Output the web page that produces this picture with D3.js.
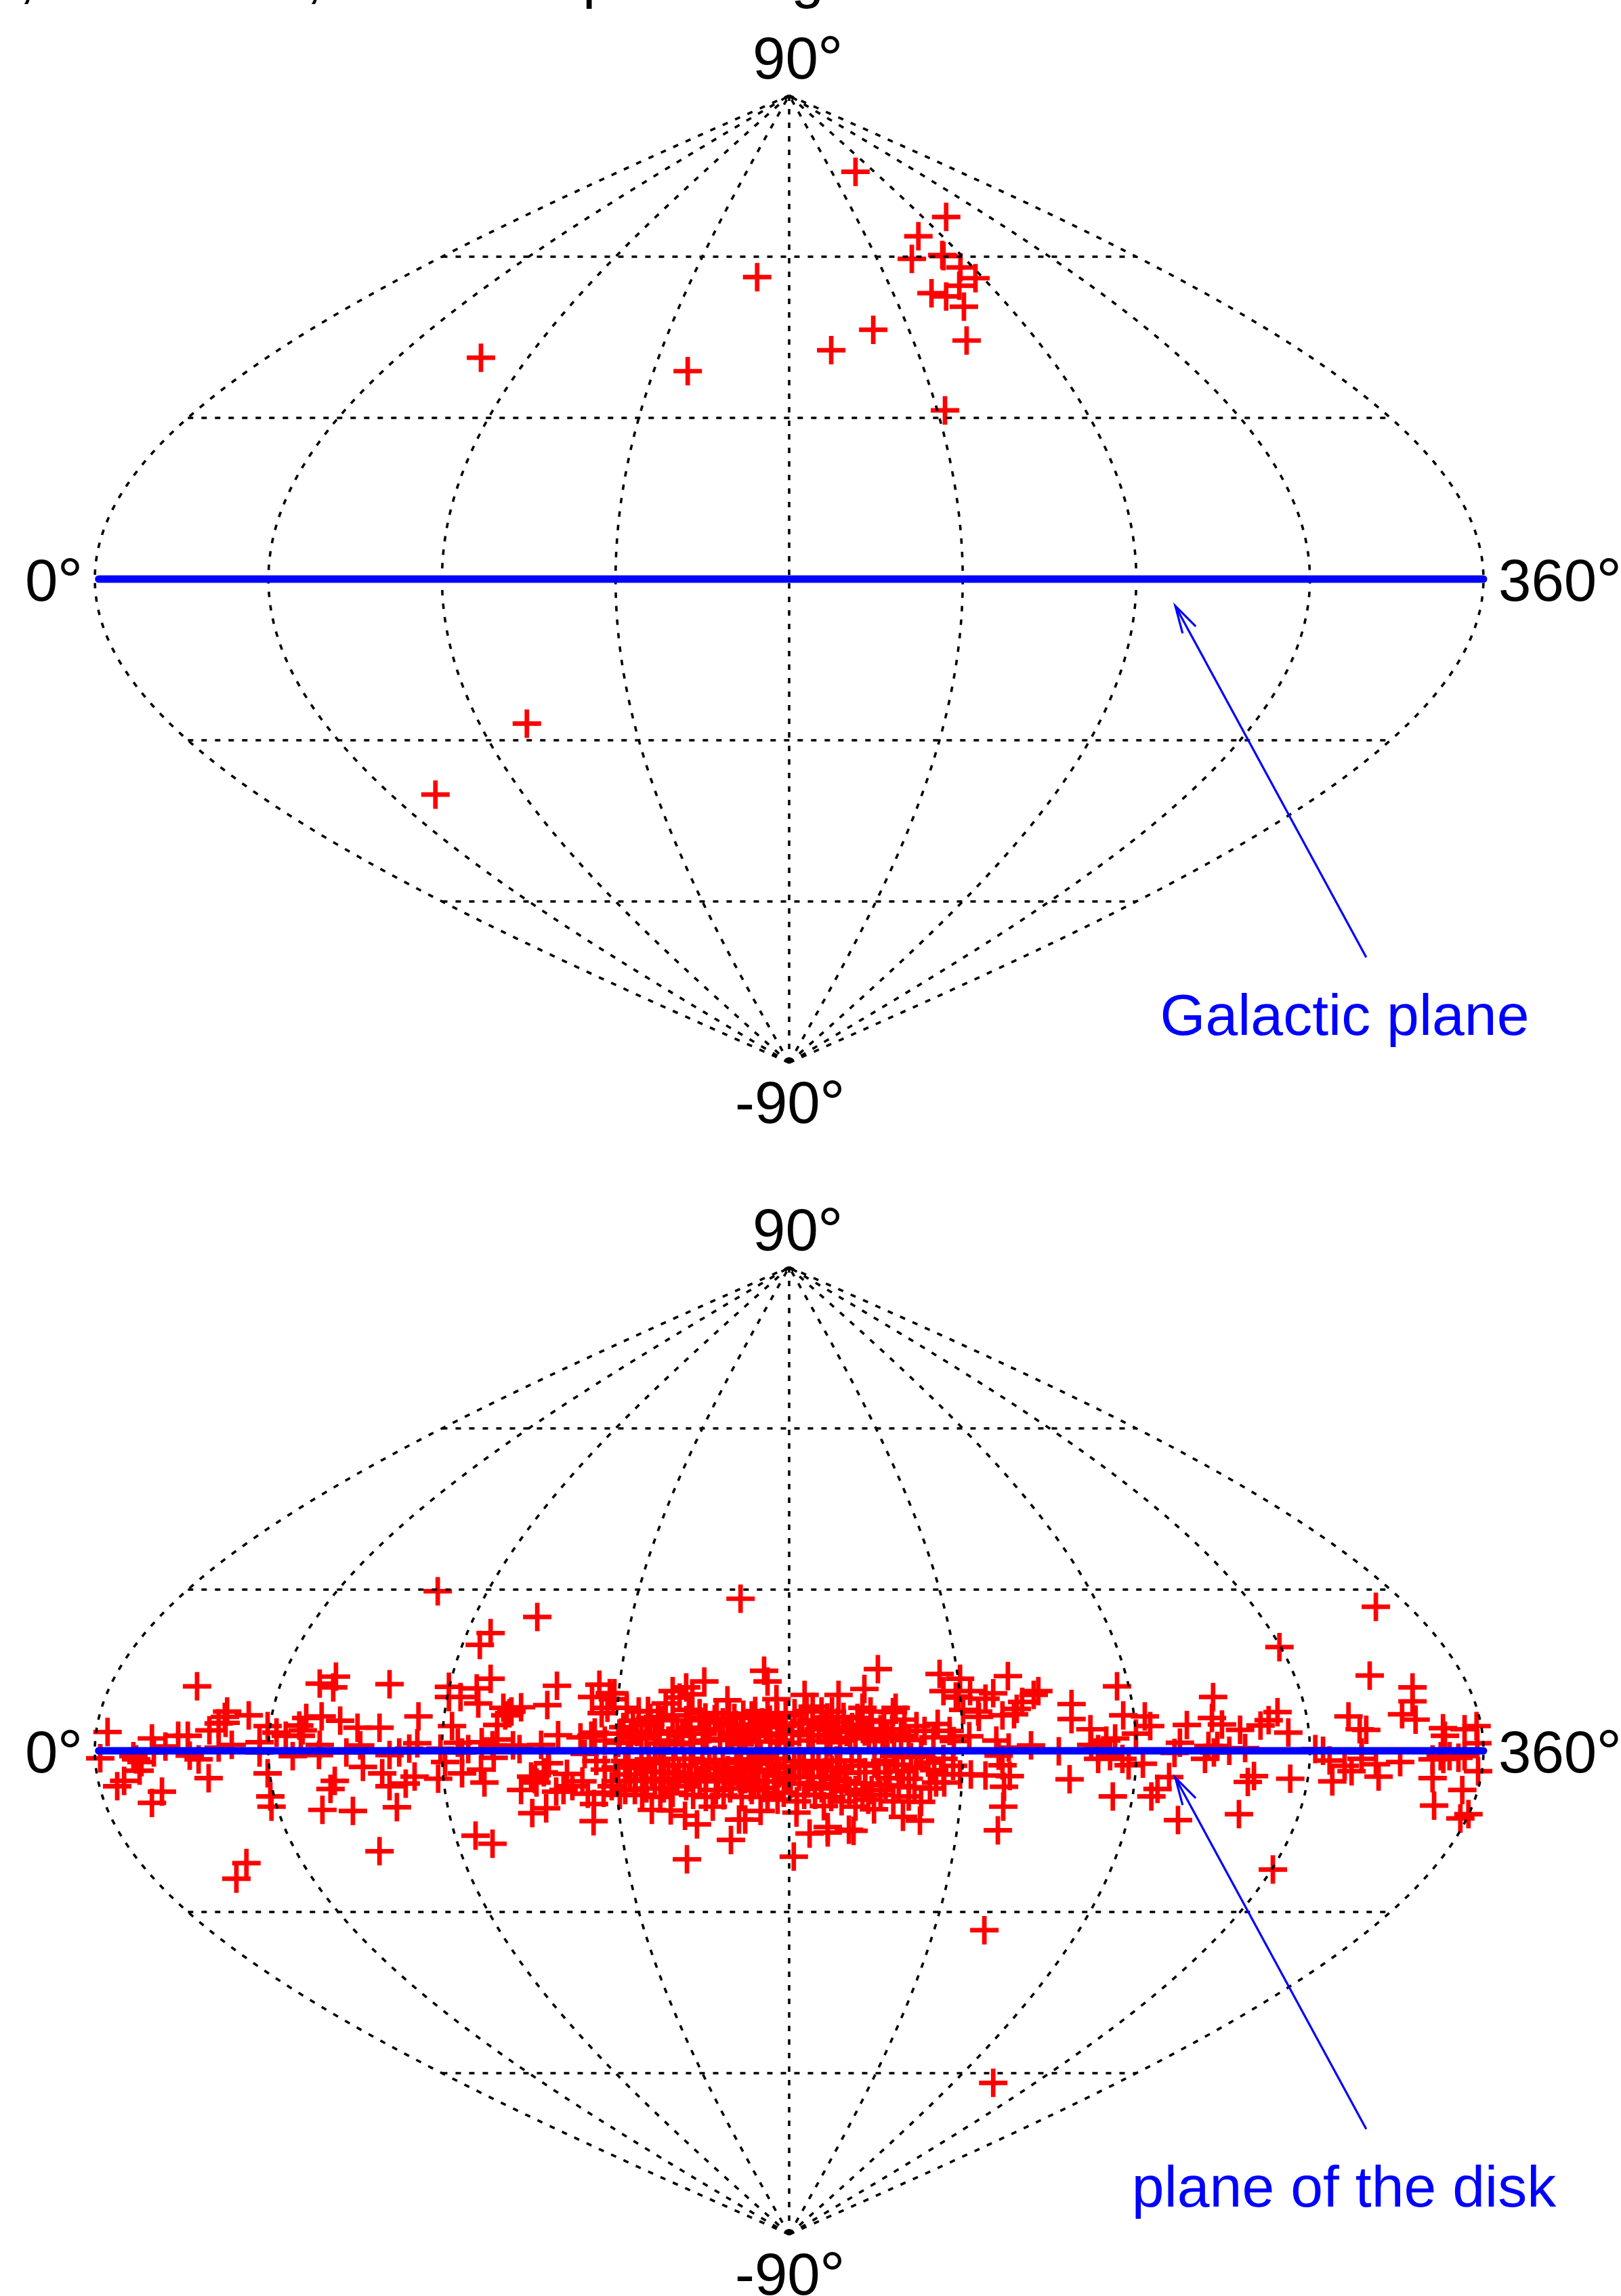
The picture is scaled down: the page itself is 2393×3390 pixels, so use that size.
<!DOCTYPE html>
<html>
<head>
<meta charset="utf-8">
<script src="https://cdn.jsdelivr.net/npm/d3@7"></script>
<style>
html,body{margin:0;padding:0;background:#fff;overflow:hidden}
svg{display:block}
text{font-family:"Liberation Sans",Arial,sans-serif}
</style>
</head>
<body>
<svg id="chart" width="2393" height="3390"></svg>
<script>
// Values are [easting, latitude] in degrees: easting is the sinusoidal map's x coordinate, (l-180)*cos(b).
const meridians = [0,45,90,135,180,225,270,315,360];
const parallels = [60,30,-30,-60];
const poleLabels = ["90","-90"];
const edgeLabels = ["0","360"];
const titleFragments = [[",",28],[",",452],["p",860],["g",1168]];

const upperPoints = [[17.2,75.8],[40.7,67.4],[33.5,63.8],[31.8,59.6],[40.0,60.1],[39.7,60.3],[44.4,58.0],[48.3,56.0],[44.1,54.6],[36.9,53.2],[40.7,52.6],[45.3,50.7],[46.0,44.4],[21.8,46.4],[10.9,42.6],[-8.3,56.2],[-26.3,38.7],[-79.9,41.2],[40.4,31.4],[-68.0,-26.9],[-91.7,-40.1]];

const lowerFarWest = [[-176.7,3.5],[-178.6,-1.4],[-153.5,12.0],[-174.2,-6.6],[-172.4,-5.6],[-170.0,-1.0],[-168.4,-3.7],[-169.3,-1.6],[-167.9,-2.1],[-165.2,2.3],[-161.7,0.8],[-158.4,2.8],[-155.9,2.8],[-155.4,-0.9],[-153.1,-1.6],[-162.6,-7.6],[-165.2,-9.7],[-150.5,-5.1],[-164.7,-0.3],[-147.9,0.6],[-144.5,1.1],[-150.3,3.8],[-147.9,5.1],[-145.7,7.3],[-146.3,6.3],[-146.1,5.2],[-140.1,6.6],[-135.2,4.6],[-137.3,1.6],[-137.3,-0.3],[-132.9,3.4],[-135.2,-4.2],[-134.5,-8.5],[-134.2,-10.4],[-130.5,2.8],[-128.7,-1.0],[-127.0,4.7],[-125.2,6.1],[-126.1,3.8],[-126.6,2.8],[-121.2,6.4],[-121.7,1.1],[-121.9,-0.8],[-116.4,5.6],[-111.9,4.3],[-114.8,-0.3],[-110.5,-3.0],[-111.2,1.0],[-106.2,4.3],[-105.5,-4.2],[-103.6,-6.6],[-103.6,-0.8],[-101.1,-0.3],[-99.4,-6.1],[-97.1,-4.8],[-117.8,-5.6],[-118.9,-7.1],[-121.0,-11.0],[-113.1,-11.2],[-101.7,-10.5],[-106.2,-18.7],[-140.7,-20.9],[-143.3,-23.8],[-121.7,12.5],[-117.5,13.8],[-118.2,11.8],[-103.6,12.4],[-91.1,29.7],[-96.1,6.4],[-88.2,11.9],[-88.2,10.0],[-85.2,10.0],[-87.4,4.6],[-96.4,1.4],[-98.5,0.4],[-91.0,-5.2],[-89.2,-2.1],[-90.4,0.4],[-85.9,1.5],[-84.8,-0.3],[-83.2,0.3],[-84.8,-4.2]];

const lowerWest = [[-77.4,13.4],[-81.0,11.6],[-80.6,8.8],[-77.4,21.9],[-80.2,19.7],[-65.3,24.9],[-60.2,12.1],[-12.6,28.3],[-62.7,8.5],[-74.1,8.0],[-72.5,7.0],[-69.5,8.1],[-72.0,7.3],[-75.7,4.8],[-73.6,6.6],[-59.9,2.9],[-64.3,1.1],[-54.1,2.5],[-69.9,0.3],[-71.6,1.0],[-75.7,2.1],[-76.9,1.0],[-79.7,1.6],[-76.6,-1.3],[-79.9,-3.5],[-79.0,-5.9],[-81.3,-15.8],[-76.9,-17.3],[-66.6,-11.6],[-63.0,-10.7],[-69.5,-7.3],[-66.9,-4.8],[-62.5,-2.3],[-65.5,-5.9],[-50.7,-13.1]];

const lowerInnerWest = [[-50.4,3.4],[-49.2,12.3],[-51.1,10.0],[-46.5,10.7],[-45.3,10.7],[-45.7,9.6],[-48.6,7.0],[-47.1,8.0],[-39.0,7.3],[-42.1,8.0],[-36.0,6.1],[-22.0,12.9],[-26.7,11.8],[-30.2,11.1],[-25.1,10.5],[-28.4,9.9],[-32.0,8.8],[-16.0,9.4],[-18.8,7.0],[-14.2,6.1],[-11.9,6.7],[-26.5,-20.2],[-15.1,-16.6],[-13.0,-12.8],[-23.9,-13.7],[-27.0,-12.1],[-19.8,-10.4],[-35.6,-11.0],[-30.7,-11.1],[-43.9,-8.2],[-50.6,-9.9],[-52.2,-8.0],[-48.1,-7.8],[-42.5,-7.3],[-38.1,-8.2],[-30.2,-7.8],[-19.0,-7.3],[-10.0,-6.7],[-60.4,-7.6],[-58.5,-7.3],[-56.2,-6.6],[-53.6,-5.7],[-57.6,-4.3],[-62.3,-2.3],[-63.6,-4.0],[-65.9,-5.3],[-53.0,-0.6],[-50.0,-1.9],[-47.8,-3.5],[-44.3,-5.7],[-46.0,-6.6],[-40.0,-7.3],[-34.8,-5.7],[-32.5,-7.0],[-26.7,-6.6],[-23.2,-5.7],[-16.7,-4.4],[-11.9,-4.8],[-9.1,-5.7],[-43.0,4.4],[-39.5,3.5],[-36.0,4.8],[-33.0,5.7],[-30.2,6.6],[-26.7,5.7],[-23.2,7.0],[-20.7,4.0],[-17.2,5.3],[-13.7,4.8],[-10.2,4.4],[-41.8,1.5],[-38.3,2.3],[-34.8,3.2],[-31.3,1.9],[-27.7,2.8],[-24.9,1.5],[-21.4,1.9],[-17.9,2.3],[-14.9,3.2],[-11.4,1.9],[-8.4,2.8],[-44.3,1.5],[-47.8,1.9],[-51.3,2.8],[-42.5,-1.9],[-38.3,-3.2],[-34.8,-2.3],[-31.3,-4.0],[-27.2,-2.8],[-24.2,-4.4],[-20.7,-3.2],[-17.2,-2.3],[-13.7,-3.2],[-10.2,-2.3],[-41.3,-4.4],[-37.2,-5.3],[-29.0,-5.7],[-25.5,-1.5],[-32.5,-1.5],[-18.4,-5.3],[-14.9,-5.7],[-11.4,-5.3]];

const lowerInnerEast = [[-6.5,14.9],[-5.6,12.9],[-3.3,9.6],[4.0,10.4],[12.8,10.4],[23.0,15.2],[19.5,11.5],[39.0,14.3],[44.3,13.4],[40.0,11.1],[43.9,9.9],[46.9,11.1],[45.1,7.6],[27.6,8.0],[19.0,8.0],[29.9,5.8],[26.9,7.2],[35.1,3.7],[37.4,2.5],[41.6,3.7],[46.7,2.7],[21.1,7.3],[16.3,4.4],[8.4,7.3],[11.1,7.3],[6.1,8.2],[1.4,7.0],[-5.6,7.0],[-9.7,6.6],[-7.0,5.3],[-0.9,6.6],[23.7,4.0],[26.7,4.0],[29.0,2.8],[6.1,5.7],[9.1,4.8],[12.6,5.3],[14.9,3.5],[18.4,4.8],[21.4,5.7],[2.6,3.5],[6.1,1.9],[9.7,2.8],[13.2,1.9],[17.2,2.3],[20.7,2.8],[24.2,2.3],[-9.7,3.5],[-6.1,4.4],[-2.6,3.2],[-4.9,2.8],[-0.9,1.5],[-7.4,-11.2],[1.9,-11.5],[-11.4,-12.8],[5.3,-15.4],[10.0,-14.2],[10.0,-15.2],[15.5,-14.7],[16.7,-14.9],[1.2,-19.7],[29.5,-12.3],[33.9,-13.0],[17.2,-10.4],[22.0,-10.9],[20.5,-9.1],[32.5,-6.8],[34.2,-9.5],[38.1,-5.9],[40.0,-4.4],[47.1,-4.4],[44.3,-4.4],[26.0,-5.1],[28.4,-6.6],[29.5,-3.8],[23.2,-4.0],[24.9,-1.9],[27.2,-1.0],[34.2,-1.0],[40.0,-1.5],[42.5,-2.8],[17.2,-7.3],[21.4,-7.3],[23.7,-8.2],[19.7,-6.1],[14.9,-5.7],[10.9,-8.6],[6.7,-8.2],[3.9,-8.2],[-1.4,-7.8],[-5.6,-8.6],[-9.7,-7.3],[-7.9,-5.7],[-3.9,-5.7],[0.4,-6.1],[4.9,-6.1],[8.4,-7.0],[11.9,-6.6],[-9.1,-2.3],[-5.6,-3.5],[-7.4,-1.0],[-3.2,-1.5],[2.6,-1.9],[6.1,-3.2],[9.7,-1.9],[13.2,-3.2],[16.2,-1.9],[19.7,-4.0],[2.6,-4.8],[9.1,-4.8],[12.6,-5.3]];

// Estimates for the crosses merged into the solid core of the disk
const lowerCoreNorth = [[-44,3.2],[-40.5,5.6],[-37,2.9],[-34,6.3],[-29,3.6],[-25.6,4.3],[-22.4,3.2],[-19.3,5.9],[-16,2.0],[-12.5,3.6],[-9,4.9],[-7.8,1.7],[-5,5.8],[-3,1.9],[-1.7,4.6],[0.8,3.4],[3.4,5.1],[5,2.9],[7.7,4.0],[10.7,1.6],[11.8,3.9],[15.8,2.4],[17.7,6.1],[19.6,3.6],[22.2,1.8],[25.5,3.2],[-33.6,1.4],[-29.5,1.2],[-26,7.6],[-21.7,6.2],[-15.6,6.9],[-12.9,1.2],[-8.8,7.4],[-3.1,6.4],[4.5,7.4],[9.9,6.2],[14.1,6.3],[-36.6,7.4],[-41,2.6]];

const lowerCoreSouth = [[-45,-3.1],[-41.7,-2.6],[-39.8,-5.6],[-36.4,-1.6],[-35.6,-3.9],[-33.3,-5.2],[-30,-2.7],[-28.6,-4.2],[-26,-5],[-22.5,-2.2],[-21.6,-5.1],[-19.3,-1.7],[-15.9,-3.6],[-15.3,-7],[-12.5,-1.6],[-12.6,-6.1],[-8.4,-3.9],[-6.6,-6.9],[-4.5,-2.4],[-2.7,-4.2],[-1.2,-2.9],[-0.5,-5.1],[1.3,-3.1],[3.8,-2.6],[5.6,-4.9],[7.6,-2.4],[8.2,-6.2],[11,-3.6],[12.3,-1.8],[14.4,-4.1],[15.6,-7.4],[18.2,-2.8],[19,-8.2],[22.1,-2.4],[25,-6.4],[-37,-7],[-33.4,-8.6],[-24.9,-8.2],[-21.6,-8.6],[-17,-8.3],[-12.3,-8.6],[-3,-9.1],[2,-9.4],[9,-10.3],[13.6,-9.4]];

const lowerCoreEast = [[28,-2.6],[31,-5.2],[33,-3],[36,-2.2],[36.5,-7],[31,-8.5],[27,-9.4],[25,2.6],[31,2],[33,4.6],[38.5,5],[42.7,1.8],[31.6,-1.2],[24.6,5.4],[37.6,-3.6]];

const lowerEast = [[56.7,13.9],[64.6,11.1],[63.4,10.4],[60.4,9.1],[59.0,7.8],[58.3,6.8],[55.3,6.6],[52.9,10.7],[50.9,9.7],[49.0,7.3],[49.2,6.3],[73.2,8.7],[73.2,5.9],[85.0,12.0],[86.6,6.6],[92.2,6.4],[93.6,4.6],[78.1,4.0],[84.5,2.3],[89.9,3.2],[82.2,1.9],[78.3,1.1],[80.1,0.3],[103.1,4.8],[101.3,1.5],[99.9,-0.4],[109.9,10.0],[109.6,6.1],[112.2,4.9],[116.9,3.9],[122.2,4.7],[124.3,5.7],[126.6,7.2],[127.1,19.3],[108.7,0.9],[111.0,0.9],[107.8,-1.5],[110.1,-0.3],[114.1,0],[118.2,0.5],[62.7,1.0],[69.9,-0.1],[98.5,-4.9],[95.5,-7.1],[93.9,-8.5],[83.9,-8.5],[100.8,-12.9],[72.7,-5.3],[91.7,-2.4],[88.0,-2.7],[86.4,-1.5],[83.2,-1.0],[80.1,-1.5],[120.5,-4.7],[118.9,-5.8],[116.6,-11.8],[125.4,-22.1],[53.7,1.9],[56.9,0.6],[54.3,-0.9],[55.3,-2.7],[57.2,-4.7],[50.9,-4.6],[55.7,-6.7],[55.5,-10.4],[54.1,-14.8],[40.2,-5.9],[43.2,10.1],[50.6,-33.4],[52.9,-61.8]];

const lowerFarEast = [[152.1,26.8],[150.5,14.0],[161.6,11.8],[161.6,9.2],[158.9,6.8],[162.4,5.8],[145.0,6.4],[147.9,4.0],[149.6,3.9],[169.5,4.2],[170.0,2.8],[175.1,4.0],[178.2,4.6],[178.4,1.4],[178.6,-3.8],[174.5,-7.3],[167.2,-10.2],[166.8,-5.1],[176.1,-11.8],[174.0,-12.6],[129.9,-5.2],[129.4,3.4],[136.4,0.3],[138.4,0],[140.8,-5.7],[145.8,-3.8],[144.0,-2.8],[140.1,-1.8],[148.4,-1.5],[152.8,-4.8],[152.1,-2.5],[158.4,-2.1],[168.9,-1.0],[169.6,-1.5],[171.2,-1.0],[173.5,-1.3],[175.1,-1.0],[166.8,-1.6],[148.4,-0.3]];

const arrowShaft = [[100.1,-5.0],[149.6,-70.4]];
const arrowBarbs = [[105.4,-8.8],[100.1,-5.0],[102.0,-10.1]];
const planeLine = [-179,180];

const cx = 1165, R = 1025, halfH = 714;
const panels = [
  {eq: 855, points: upperPoints, label: "Galactic plane", labelX: 1985, labelY: 1528},
  {eq: 2585, points: [].concat(lowerFarWest, lowerWest, lowerInnerWest, lowerCoreNorth, lowerCoreSouth, lowerCoreEast, lowerInnerEast, lowerEast, lowerFarEast), label: "plane of the disk", labelX: 1984, labelY: 3258}
];

const svg = d3.select("#chart");
const lonToEasting = (lon, lat) => (lon - 180) * Math.cos(lat * Math.PI / 180);
const x = d3.scaleLinear().domain([-180, 180]).range([cx - R, cx + R]);
const lats = d3.range(-90, 90.01, 1);
const plus = "M-21,0H21M0,-21V21";

// Title line that runs off the top of the page, as in the reference
svg.append("g").selectAll("text").data(titleFragments).join("text")
  .attr("x", d => d[1]).attr("y", -5).attr("font-size", 87).attr("fill", "#000").text(d => d[0]);

function degreeText(g, num, xPos, y, fill) {
  const t = g.append("text").attr("x", xPos).attr("y", y).attr("font-size", 87).attr("fill", fill);
  t.append("tspan").text(num);
  t.append("tspan").attr("font-size", 95).attr("dy", 3).attr("dx", -1).text("\u00B0");
}

panels.forEach(p => {
  const g = svg.append("g");
  const y = d3.scaleLinear().domain([-90, 90]).range([p.eq + halfH, p.eq - halfH]);

  // crosses sit under the grid
  g.append("g").selectAll("path").data(p.points).join("path")
    .attr("d", plus)
    .attr("transform", d => `translate(${x(d[0])},${y(d[1])})`)
    .attr("fill", "none").attr("stroke", "#f00").attr("stroke-width", 6.7);

  const dash = {fill: "none", stroke: "#000", "stroke-width": 3.6, "stroke-dasharray": "8 12"};
  const setDash = s => Object.entries(dash).forEach(([k, v]) => s.attr(k, v));

  const lineFor = lon => d3.line().x(b => x(lonToEasting(lon, b))).y(b => y(b))(lats);
  setDash(g.append("g").selectAll("path").data(meridians).join("path").attr("d", lineFor));

  const limit = b => 180 * Math.cos(b * Math.PI / 180);
  setDash(g.append("g").selectAll("line").data(parallels).join("line")
    .attr("x1", b => x(-limit(b))).attr("x2", b => x(limit(b)))
    .attr("y1", b => y(b)).attr("y2", b => y(b)));

  // the plane itself
  g.append("line")
    .attr("x1", x(planeLine[0])).attr("x2", x(planeLine[1]))
    .attr("y1", y(0)).attr("y2", y(0))
    .attr("stroke", "#00f").attr("stroke-width", 11).attr("stroke-linecap", "round");

  const arrowLine = d3.line().x(d => x(d[0])).y(d => y(d[1]));
  g.append("path").attr("d", arrowLine(arrowShaft)).attr("fill", "none").attr("stroke", "#00f").attr("stroke-width", 3.2);
  g.append("path").attr("d", arrowLine(arrowBarbs)).attr("fill", "none").attr("stroke", "#00f").attr("stroke-width", 3.2);

  g.append("text").attr("x", p.labelX).attr("y", p.labelY).attr("text-anchor", "middle")
    .attr("font-size", 86).attr("fill", "#00f").text(p.label);

  degreeText(g, poleLabels[0], 1111, p.eq - 739, "#000");
  degreeText(g, poleLabels[1], 1085, p.eq + 803, "#000");
  degreeText(g, edgeLabels[0], 37, p.eq + 32, "#000");
  degreeText(g, edgeLabels[1], 2212, p.eq + 32, "#000");
});
</script>
</body>
</html>
